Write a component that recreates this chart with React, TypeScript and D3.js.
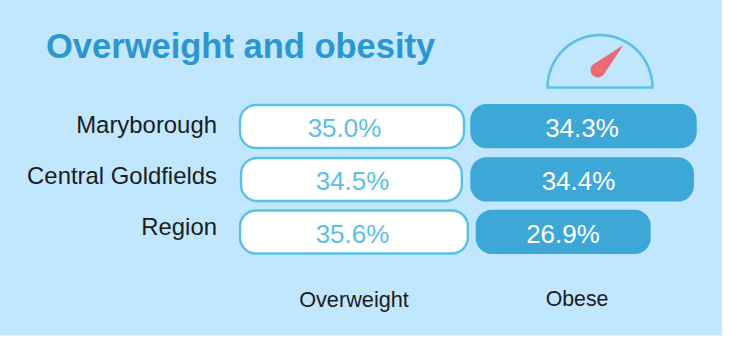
import React from "react";
import * as d3 from "d3";

const categories = ["Maryborough", "Central Goldfields", "Region"];
const overweight = [35.0, 34.5, 35.6];
const obese = [34.3, 34.4, 26.9];
const seriesLabels = ["Overweight", "Obese"];
const title = "Overweight and obesity";

const W = 731, H = 338;
const font = "'Liberation Sans', Arial, sans-serif";
const BLUE = "#5bc1e3", DARK = "#3da8d8", BG = "#c1e7ff";

// layout of the hand-placed rows
const owTop = [105, 158, 210.5];
const obTop = [104, 157.3, 209.7];
const owH = 43;
const obH = 44.3;
const owStart = [240, 241, 240];
const obStart = [470.3, 470.3, 475.7];
const obNudge = [6.9, 3.5, 2.8];
const labelY = [133, 184, 235];
const owTextX = [344.5, 352.5, 352.5];
const obTextX = [582, 578.5, 563];

const width = d3.scaleLinear().domain([0, 35]).range([0, 224]);

function Gauge() {
  const cx = 600, cy = 87.5, r = 52.5;
  const arc = d3.arc()({ innerRadius: r - 1.25, outerRadius: r + 1.25, startAngle: -Math.PI / 2, endAngle: Math.PI / 2 }) as string;
  const hub = { x: 598, y: 70 }, tip = { x: 623.5, y: 45 }, hr = 7.5;
  const a = Math.atan2(tip.y - hub.y, tip.x - hub.x);
  const p = (ang: number) => `${hub.x + hr * Math.cos(ang)},${hub.y + hr * Math.sin(ang)}`;
  return (
    <g>
      <g transform={`translate(${cx},${cy})`}>
        <path d={arc} fill={BLUE} />
        <line x1={-r - 1} x2={r + 1} y1={0} y2={0} stroke={BLUE} strokeWidth={2.5} />
      </g>
      <path
        d={`M${tip.x},${tip.y} L${p(a + Math.PI / 2)} A${hr},${hr} 0 1 1 ${p(a - Math.PI / 2)} Z`}
        fill="#ec6a75"
      />
    </g>
  );
}

export default function App() {
  return (
    <svg width={W} height={H} style={{ position: "absolute", left: 0, top: 0, display: "block" }} fontFamily={font}>
      <rect width={W} height={H} fill="#fff" />
      <rect width={722} height={335.5} fill={BG} />
      <text x={46} y={58} fontSize={34.5} fontWeight={700} fill="#2b96cf">{title}</text>
      <Gauge />
      {categories.map((c, i) => (
        <g key={c}>
          <text x={217} y={labelY[i]} textAnchor="end" fontSize={23.9} fill="#1c1c1c">{c}</text>
          <rect x={owStart[i]} y={owTop[i]} width={width(overweight[i])} height={owH} rx={16} fill="#fff" stroke={BLUE} strokeWidth={2.4} />
          <text x={owTextX[i]} y={owTop[i] + 32} textAnchor="middle" fontSize={26} fill={BLUE}>{overweight[i].toFixed(1)}%</text>
          <rect x={obStart[i]} y={obTop[i]} width={width(obese[i]) + obNudge[i]} height={obH} rx={16} fill={DARK} />
          <text x={obTextX[i]} y={obTop[i] + 33} textAnchor="middle" fontSize={26} fill="#fff">{obese[i].toFixed(1)}%</text>
        </g>
      ))}
      <text x={354} y={307} textAnchor="middle" fontSize={21.7} fill="#1c1c1c">{seriesLabels[0]}</text>
      <text x={577} y={306} textAnchor="middle" fontSize={21.3} fill="#1c1c1c">{seriesLabels[1]}</text>
    </svg>
  );
}
